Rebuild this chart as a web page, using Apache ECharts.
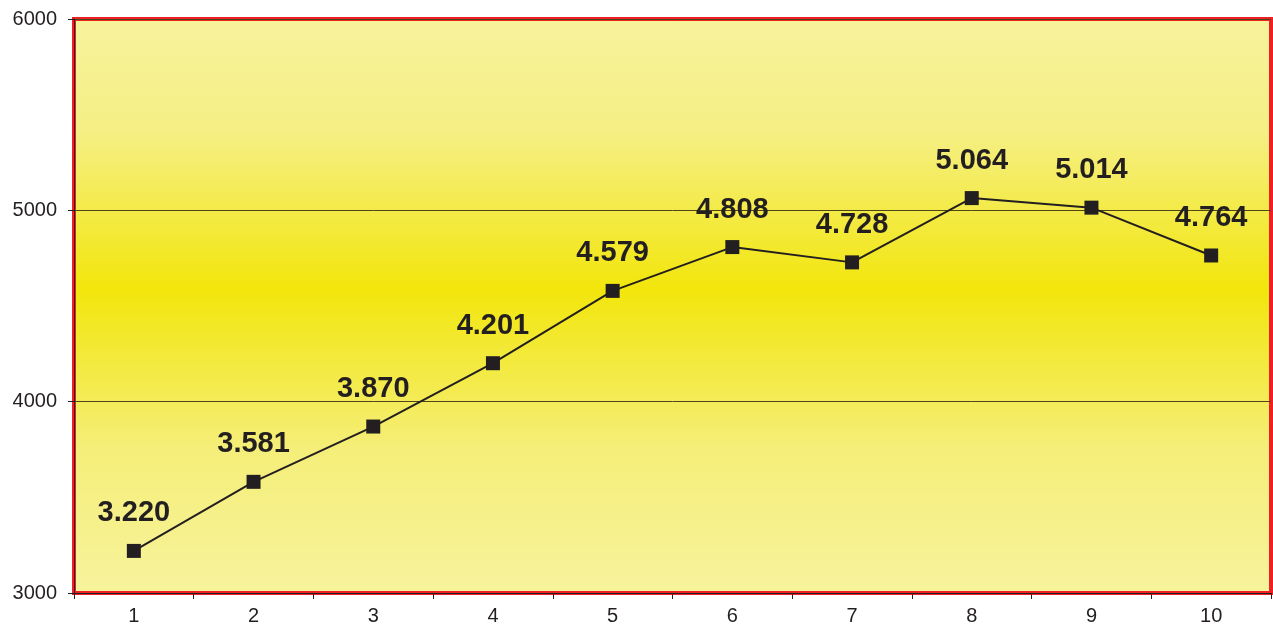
<!DOCTYPE html>
<html><head><meta charset="utf-8">
<script src="https://cdn.jsdelivr.net/npm/echarts@6/dist/echarts.min.js"></script>
<style>html,body{margin:0;padding:0;background:#fff}#c{width:1273px;height:628px}</style>
</head><body><div id="c"></div>
<script>
var categories = ['1','2','3','4','5','6','7','8','9','10'];
var values = [3220, 3581, 3870, 4201, 4579, 4808, 4728, 5064, 5014, 4764];
var yTicks = [3000, 4000, 5000, 6000];

function fmt(v){ var s = String(v); return s.slice(0, s.length-3) + '.' + s.slice(s.length-3); }

var chart = echarts.init(document.getElementById('c'), null, {renderer:'canvas'});
chart.setOption({
  animation:false,
  grid:{left:74, right:2, top:19, bottom:35, show:true, borderColor:'#ee2024', borderWidth:4,
    backgroundColor:{type:'linear',x:0,y:0,x2:0,y2:1,colorStops:[
      {offset:0,color:'#f7f39c'},{offset:0.2,color:'#f5ef84'},{offset:0.47,color:'#f2e60c'},{offset:0.75,color:'#f5ee7a'},{offset:1,color:'#f7f39c'}]}},
  xAxis:{type:'category', data:categories, boundaryGap:true,
    axisLine:{show:true, lineStyle:{color:'#231f20', width:1}},
    axisTick:{show:true, length:6, lineStyle:{color:'#231f20'}},
    axisLabel:{color:'#231f20', fontSize:20, fontFamily:'Liberation Sans, Arial', margin:13},
    splitLine:{show:false}},
  yAxis:{type:'value', min:yTicks[0], max:yTicks[yTicks.length-1], interval:1000,
    axisLine:{show:true, lineStyle:{color:'#231f20', width:1}},
    axisTick:{show:true, length:6, lineStyle:{color:'#231f20'}},
    axisLabel:{color:'#231f20', fontSize:20, fontFamily:'Liberation Sans, Arial', margin:17,
      formatter:function(v){return String(v);}},
    splitLine:{show:true, lineStyle:{color:'#4e4618', width:1}}},
  series:[{type:'line', data:values, symbol:'rect', symbolSize:14,
    itemStyle:{color:'#231f20'}, lineStyle:{color:'#231f20', width:2},
    label:{show:true, position:'top', distance:16, color:'#231f20', fontSize:29, fontWeight:'bold',
      fontFamily:'Liberation Sans, Arial', formatter:function(p){return fmt(p.value);}}}]
});
</script></body></html>
